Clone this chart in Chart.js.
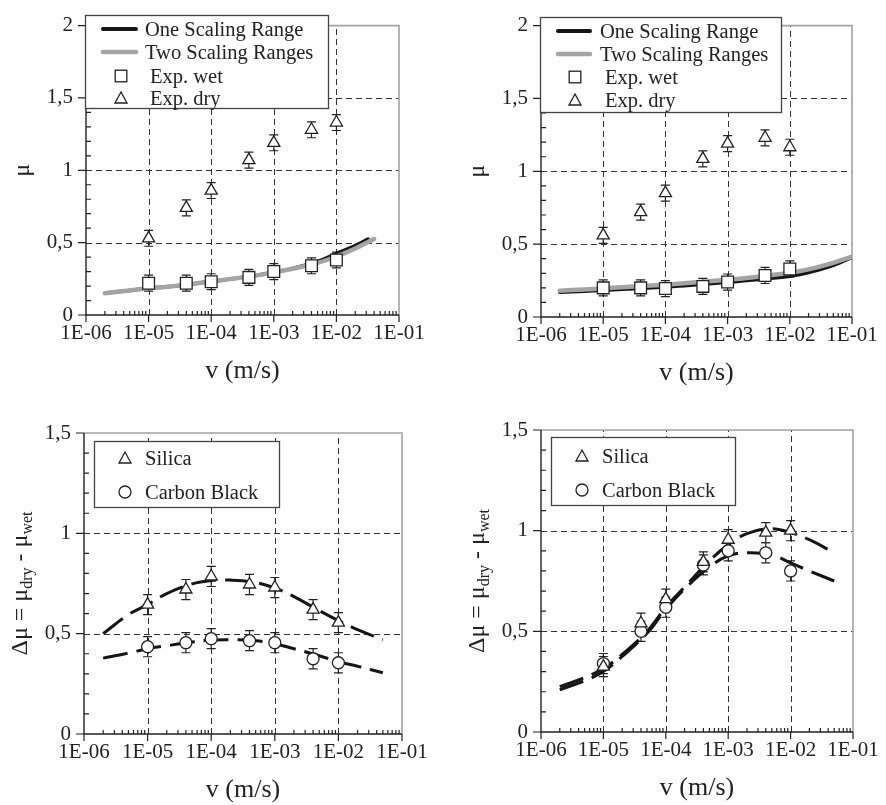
<!DOCTYPE html>
<html><head><meta charset="utf-8">
<script src="https://cdn.jsdelivr.net/npm/chart.js@4.4.0/dist/chart.umd.min.js"></script>
<style>
html,body{margin:0;padding:0;background:#fff}
body{width:886px;height:805px;position:relative;overflow:hidden}
canvas{position:absolute}
#ov{position:absolute;left:0;top:0;pointer-events:none}
</style></head><body>
<canvas id="c1" width="443" height="400" style="left:0;top:0"></canvas>
<canvas id="c2" width="443" height="400" style="left:443px;top:0"></canvas>
<canvas id="c3" width="443" height="405" style="left:0;top:400px"></canvas>
<canvas id="c4" width="443" height="405" style="left:443px;top:400px"></canvas>
<svg id="ov" width="886" height="805"></svg>
<script>
// ---------- data ----------
const vExp = [1e-5, 4e-5, 1e-4, 4e-4, 1e-3, 4e-3, 1e-2];
const xTicks = [1e-6, 1e-5, 1e-4, 1e-3, 1e-2, 1e-1];
const xTickLabels = ['1E-06', '1E-05', '1E-04', '1E-03', '1E-02', '1E-01'];
const yTicksTop = [0, 0.5, 1, 1.5, 2];
const yTickLabelsTop = ['0', '0,5', '1', '1,5', '2'];
const yTicksBot = [0, 0.5, 1, 1.5];
const yTickLabelsBot = ['0', '0,5', '1', '1,5'];
const topNames = ['One Scaling Range', 'Two Scaling Ranges', 'Exp. wet', 'Exp. dry'];
const botNames = ['Silica', 'Carbon Black'];

// top-left
const tlWet = [0.22, 0.22, 0.23, 0.26, 0.30, 0.34, 0.38];
const tlDry = [0.53, 0.74, 0.86, 1.07, 1.19, 1.28, 1.33];
const tlOneV = [2e-6, 5e-6, 1e-5, 2e-5, 5e-5, 1e-4, 2e-4, 5e-4, 1e-3, 2e-3, 5e-3, 1e-2, 2e-2, 3.2e-2];
const tlOne = [0.15, 0.17, 0.184, 0.196, 0.215, 0.232, 0.248, 0.272, 0.295, 0.322, 0.37, 0.425, 0.48, 0.525];
const tlTwoV = [2e-6, 5e-6, 1e-5, 2e-5, 5e-5, 1e-4, 2e-4, 5e-4, 1e-3, 2e-3, 5e-3, 1e-2, 2e-2, 4e-2];
const tlTwo = [0.15, 0.17, 0.184, 0.196, 0.215, 0.232, 0.248, 0.272, 0.295, 0.32, 0.36, 0.405, 0.46, 0.525];

// top-right
const trWet = [0.20, 0.20, 0.195, 0.21, 0.24, 0.285, 0.33];
const trDry = [0.56, 0.72, 0.85, 1.085, 1.19, 1.23, 1.165];
const trCurveV = [2e-6, 5e-6, 1e-5, 2e-5, 5e-5, 1e-4, 2e-4, 5e-4, 1e-3, 2e-3, 5e-3, 1e-2, 2e-2, 5e-2, 1e-1];
const trOne = [0.17, 0.177, 0.183, 0.19, 0.199, 0.207, 0.215, 0.228, 0.238, 0.25, 0.266, 0.28, 0.305, 0.355, 0.41];
const trTwo = [0.18, 0.189, 0.196, 0.204, 0.214, 0.222, 0.231, 0.245, 0.256, 0.268, 0.287, 0.303, 0.327, 0.372, 0.415];

// bottom-left
const blSilica = [0.645, 0.72, 0.785, 0.745, 0.73, 0.62, 0.555];
const blCB = [0.435, 0.455, 0.475, 0.465, 0.455, 0.375, 0.355];
const blCurveV = [2e-6, 5e-6, 1e-5, 2e-5, 5e-5, 1e-4, 2e-4, 5e-4, 1e-3, 2e-3, 5e-3, 1e-2, 2e-2, 5e-2];
const blSilicaFit = [0.50, 0.595, 0.645, 0.70, 0.748, 0.765, 0.767, 0.755, 0.727, 0.685, 0.615, 0.565, 0.52, 0.47];
const blCBFit = [0.378, 0.403, 0.425, 0.44, 0.458, 0.468, 0.47, 0.465, 0.45, 0.425, 0.39, 0.36, 0.338, 0.305];

// bottom-right
const brSilica = [0.325, 0.54, 0.66, 0.845, 0.955, 0.99, 1.0];
const brCB = [0.34, 0.50, 0.62, 0.83, 0.90, 0.89, 0.80];
const brCurveV = [2e-6, 5e-6, 1e-5, 2e-5, 5e-5, 1e-4, 2e-4, 5e-4, 1e-3, 2e-3, 5e-3, 1e-2, 2e-2, 5e-2];
const brSilicaFit = [0.225, 0.27, 0.315, 0.385, 0.50, 0.62, 0.72, 0.85, 0.93, 0.985, 1.01, 0.99, 0.955, 0.89];
const brCBFit = [0.21, 0.255, 0.30, 0.375, 0.49, 0.61, 0.71, 0.82, 0.875, 0.89, 0.88, 0.84, 0.80, 0.75];

const errTop = [0.055, 0.055, 0.055, 0.055, 0.055, 0.055, 0.055];
const errBot = [0.05, 0.05, 0.05, 0.05, 0.05, 0.05, 0.05];

// ---------- helpers ----------
const FONT = '"Liberation Serif","Times New Roman",serif';
const INK = '#222';
const pts = (xs, ys) => xs.map((x, i) => ({x, y: ys[i]}));

function curve(label, xs, ys, color, width, order, dash) {
  return {label, data: pts(xs, ys), showLine: true, borderColor: color, borderWidth: width,
    pointRadius: 0, pointHoverRadius: 0, fill: false, tension: 0.4,
    order, borderDash: dash || [], borderCapStyle: dash ? 'butt' : 'round'};
}
function marks(label, ys, err, style, r) {
  return {label, data: pts(vExp, ys), showLine: false, pointStyle: style, pointRadius: r,
    pointHoverRadius: r, pointBackgroundColor: '#fff', pointBorderColor: INK, pointBorderWidth: 1.3,
    borderColor: INK, backgroundColor: '#fff', errors: err, order: 0};
}

const framePlugin = {
  id: 'frame',
  beforeDatasetsDraw(chart, args, o) {
    const {ctx, chartArea: a, scales: {x, y}} = chart;
    ctx.save();
    ctx.lineWidth = 1; ctx.strokeStyle = '#333'; ctx.setLineDash([6, 4]);
    ctx.beginPath();
    xTicks.forEach(v => {
      if (v <= x.min * 1.0001 || v >= x.max * 0.9999) return;
      const p = Math.round(x.getPixelForValue(v)) + 0.5;
      ctx.moveTo(p, a.bottom); ctx.lineTo(p, a.top);
    });
    o.yTicks.forEach(v => {
      if (v <= y.min || v >= y.max) return;
      const p = Math.round(y.getPixelForValue(v)) + 0.5;
      ctx.moveTo(a.left, p); ctx.lineTo(a.right, p);
    });
    ctx.stroke();
    ctx.setLineDash([]);
    ctx.strokeStyle = '#a3a3a3'; ctx.lineWidth = 1.6;
    ctx.beginPath(); ctx.moveTo(a.left, a.top); ctx.lineTo(a.right, a.top); ctx.lineTo(a.right, a.bottom); ctx.stroke();
    ctx.strokeStyle = INK; ctx.lineWidth = 1.4;
    ctx.beginPath(); ctx.moveTo(a.left, a.top); ctx.lineTo(a.left, a.bottom); ctx.lineTo(a.right, a.bottom); ctx.stroke();
    ctx.lineWidth = 1.2; ctx.beginPath();
    xTicks.forEach(v => { const p = x.getPixelForValue(v); ctx.moveTo(p, a.bottom); ctx.lineTo(p, a.bottom + 7); });
    for (let e = -6; e < -1; e++) for (let k = 2; k < 10; k++) {
      const p = x.getPixelForValue(k * Math.pow(10, e));
      ctx.moveTo(p, a.bottom); ctx.lineTo(p, a.bottom - 4);
    }
    o.yTicks.forEach(v => { const p = y.getPixelForValue(v); ctx.moveTo(a.left - 8, p); ctx.lineTo(a.left, p); });
    for (let i = 1; i < Math.round(y.max * 10); i++) {
      if (i % 5 === 0) continue;
      const p = y.getPixelForValue(i / 10);
      ctx.moveTo(a.left, p); ctx.lineTo(a.left + 5, p);
    }
    ctx.stroke();
    ctx.restore();
  }
};

const errPlugin = {
  id: 'err',
  beforeDatasetsDraw(chart) {
    const {ctx, scales: {x, y}} = chart;
    ctx.save(); ctx.strokeStyle = INK; ctx.lineWidth = 1.2;
    chart.data.datasets.forEach(ds => {
      if (!ds.errors) return;
      ds.data.forEach((d, i) => {
        const px = x.getPixelForValue(d.x);
        const y1 = y.getPixelForValue(d.y + ds.errors[i]);
        const y2 = y.getPixelForValue(d.y - ds.errors[i]);
        ctx.beginPath();
        ctx.moveTo(px, y1); ctx.lineTo(px, y2);
        ctx.moveTo(px - 4.5, y1); ctx.lineTo(px + 4.5, y1);
        ctx.moveTo(px - 4.5, y2); ctx.lineTo(px + 4.5, y2);
        ctx.stroke();
      });
    });
    ctx.restore();
  }
};

const titlePlugin = {
  id: 'titles',
  afterDraw(chart, args, o) {
    const {ctx, chartArea: a} = chart;
    ctx.save();
    ctx.fillStyle = INK;
    ctx.textAlign = 'center'; ctx.textBaseline = 'middle';
    ctx.font = o.xSize + 'px ' + FONT;
    ctx.fillText(o.xText, (a.left + a.right) / 2, a.bottom + o.xOff);
    ctx.translate(a.left - o.yOff, (a.top + a.bottom) / 2);
    ctx.rotate(-Math.PI / 2);
    let total = 0;
    const ws = o.ySegs.map(s => { ctx.font = s.size + 'px ' + FONT; const w = ctx.measureText(s.t).width; total += w; return w; });
    let cx = -total / 2;
    ctx.textAlign = 'left'; ctx.textBaseline = 'alphabetic';
    o.ySegs.forEach((s, i) => { ctx.font = s.size + 'px ' + FONT; ctx.fillText(s.t, cx, o.base + s.dy); cx += ws[i]; });
    ctx.restore();
  }
};

function makeChart(id, W, H, area, yMax, yTicks, yLabels, datasets, titles) {
  return new Chart(document.getElementById(id), {
    type: 'scatter',
    data: {datasets},
    options: {
      responsive: false, animation: false, devicePixelRatio: 1,
      layout: {padding: {left: 0, top: area.top, right: W - area.right, bottom: 0}},
      plugins: {legend: {display: false}, tooltip: {enabled: false},
        frame: {yTicks}, titles},
      scales: {
        x: {type: 'logarithmic', min: 1e-6, max: 1e-1, position: 'bottom',
          afterFit: s => { s.height = H - area.bottom; },
          afterBuildTicks: s => { s.ticks = xTicks.map(v => ({value: v})); },
          ticks: {callback: (v, i) => xTickLabels[i], font: {family: FONT, size: 21}, color: INK,
            padding: 6, maxRotation: 0, minRotation: 0, autoSkip: false},
          grid: {display: false, drawTicks: false}, border: {display: false}},
        y: {type: 'linear', min: 0, max: yMax, position: 'left',
          afterFit: s => { s.width = area.left; },
          afterBuildTicks: s => { s.ticks = yTicks.map(v => ({value: v})); },
          ticks: {callback: (v, i) => yLabels[i], font: {family: FONT, size: 21}, color: INK, padding: 13},
          grid: {display: false, drawTicks: false}, border: {display: false}}
      }
    },
    plugins: [framePlugin, errPlugin, titlePlugin]
  });
}

const muTitle = {xText: 'v (m/s)', xSize: 26, xOff: 56, yOff: 61, base: 4, ySegs: [{t: 'μ', size: 24, dy: 0}]};
const dmuTitle = {xText: 'v (m/s)', xSize: 26, xOff: 56, yOff: 65, base: 8, ySegs: [
  {t: 'Δμ = μ', size: 24, dy: 0}, {t: 'dry', size: 16, dy: 5},
  {t: ' - μ', size: 24, dy: 0}, {t: 'wet', size: 16, dy: 5}]};

makeChart('c1', 443, 400, {left: 86, top: 15, right: 399, bottom: 315}, 2, yTicksTop, yTickLabelsTop, [
  marks(topNames[2], tlWet, errTop, 'rect', 8.3),
  marks(topNames[3], tlDry, errTop, 'triangle', 7),
  curve(topNames[1], tlTwoV, tlTwo, '#a4a4a4', 4.5, 1),
  curve(topNames[0], tlOneV, tlOne, '#151515', 3.5, 2)
], muTitle);

makeChart('c2', 443, 400, {left: 98, top: 17, right: 409, bottom: 317}, 2, yTicksTop, yTickLabelsTop, [
  marks(topNames[2], trWet, errTop, 'rect', 8.3),
  marks(topNames[3], trDry, errTop, 'triangle', 7),
  curve(topNames[1], trCurveV, trTwo, '#a4a4a4', 4.5, 1),
  curve(topNames[0], trCurveV, trOne, '#151515', 3.5, 2)
], muTitle);

makeChart('c3', 443, 405, {left: 84, top: 33, right: 402, bottom: 334}, 1.5, yTicksBot, yTickLabelsBot, [
  marks(botNames[0], blSilica, errBot, 'triangle', 7),
  marks(botNames[1], blCB, errBot, 'circle', 6),
  curve(botNames[0] + ' fit', blCurveV, blSilicaFit, '#151515', 3, 1, [25, 9]),
  curve(botNames[1] + ' fit', blCurveV, blCBFit, '#151515', 3, 1, [25, 9])
], dmuTitle);

makeChart('c4', 443, 405, {left: 98, top: 30, right: 410, bottom: 332}, 1.5, yTicksBot, yTickLabelsBot, [
  marks(botNames[0], brSilica, errBot, 'triangle', 7),
  marks(botNames[1], brCB, errBot, 'circle', 6),
  curve(botNames[0] + ' fit', brCurveV, brSilicaFit, '#151515', 3, 1, [25, 9]),
  curve(botNames[1] + ' fit', brCurveV, brCBFit, '#151515', 3, 1, [25, 9])
], dmuTitle);

// ---------- legends (SVG overlay) ----------
const svg = document.getElementById('ov');
let s = '';
const T = (x, y, t) => `<text x="${x}" y="${y + 7}" font-family='${FONT}' font-size="20.5" fill="${INK}">${t}</text>`;
const box = (x, y, w, h) => `<rect x="${x + 0.5}" y="${y + 0.5}" width="${w}" height="${h}" fill="#fff" stroke="#444" stroke-width="1.3"/>`;
const ln = (x1, x2, y, c, w) => `<line x1="${x1}" y1="${y}" x2="${x2}" y2="${y}" stroke="${c}" stroke-width="${w}" stroke-linecap="round"/>`;
const sq = (cx, cy) => `<rect x="${cx - 5.8}" y="${cy - 5.8}" width="11.6" height="11.6" fill="#fff" stroke="${INK}" stroke-width="1.3"/>`;
const tri = (cx, cy) => `<polygon points="${cx},${cy - 6} ${cx + 6},${cy + 5} ${cx - 6},${cy + 5}" fill="#fff" stroke="${INK}" stroke-width="1.3"/>`;
const cir = (cx, cy) => `<circle cx="${cx}" cy="${cy}" r="6" fill="#fff" stroke="${INK}" stroke-width="1.3"/>`;

// top-left
s += box(85, 15, 243, 93);
s += ln(103, 136, 29, '#151515', 4) + T(145, 29, topNames[0]);
s += ln(103, 136, 52, '#a4a4a4', 4.5) + T(145, 52, topNames[1]);
s += sq(121, 76) + T(150, 76, topNames[2]);
s += tri(121, 98) + T(150, 98, topNames[3]);
// top-right
s += box(540, 17, 241, 95);
s += ln(558, 590, 31, '#151515', 4) + T(600, 31, topNames[0]);
s += ln(558, 590, 54, '#a4a4a4', 4.5) + T(600, 54, topNames[1]);
s += sq(575, 77) + T(605, 77, topNames[2]);
s += tri(575, 100) + T(605, 100, topNames[3]);
// bottom-left
s += box(94, 441, 185, 66);
s += tri(125, 458) + T(145, 458, botNames[0]);
s += cir(125, 492) + T(145, 492, botNames[1]);
// bottom-right
s += box(551, 437, 184, 68);
s += tri(582, 456) + T(602, 456, botNames[0]);
s += cir(582, 490) + T(602, 490, botNames[1]);
svg.innerHTML = s;
</script>
</body></html>
